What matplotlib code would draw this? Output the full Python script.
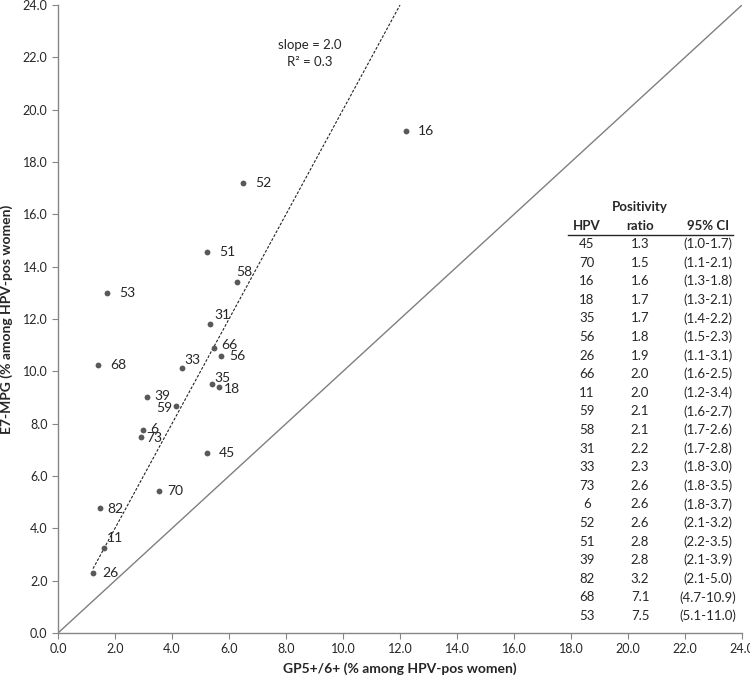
import matplotlib
matplotlib.use("Agg")
import matplotlib.pyplot as plt
import numpy as np

plt.rcParams['font.family'] = ['Lato', 'DejaVu Sans']

# Scatter data
types = ['16', '52', '51', '58', '53', '31', '66', '56', '33', '68', '35',
         '18', '39', '59', '6', '73', '45', '70', '82', '11', '26']
gp = [12.21, 6.49, 5.23, 6.29, 1.72, 5.34, 5.46, 5.71, 4.34, 1.41, 5.40,
      5.65, 3.13, 4.15, 2.99, 2.90, 5.23, 3.55, 1.47, 1.61, 1.23]
e7 = [19.17, 17.20, 14.56, 13.41, 12.99, 11.80, 10.91, 10.58, 10.12, 10.23, 9.51,
      9.39, 9.03, 8.66, 7.75, 7.48, 6.87, 5.43, 4.77, 3.25, 2.31]
# label offsets (pixels) and alignment
lab_dx = [12, 12, 12, -1, 12, 4, 8, 8, 3, 12, 2, 5, 7, -4, 7, 6, 12, 8, 7, 3, 9]
lab_dy = [0, 0, 0, 10, 0, 9, 3, 0, 8, 0, 6, -2, 1, -2, 1, -1, 0, 0, -1, 10, 0]
lab_ha = ['left'] * 13 + ['right'] + ['left'] * 7

slope = 2.0
intercept = 0.0
slope_text = "slope = 2.0"
r2_text = "R² = 0.3"

# Table data
tab_hpv = ['45', '70', '16', '18', '35', '56', '26', '66', '11', '59', '58',
           '31', '33', '73', '6', '52', '51', '39', '82', '68', '53']
tab_ratio = ['1.3', '1.5', '1.6', '1.7', '1.7', '1.8', '1.9', '2.0', '2.0', '2.1', '2.1',
             '2.2', '2.3', '2.6', '2.6', '2.6', '2.8', '2.8', '3.2', '7.1', '7.5']
tab_ci = ['(1.0-1.7)', '(1.1-2.1)', '(1.3-1.8)', '(1.3-2.1)', '(1.4-2.2)', '(1.5-2.3)',
          '(1.1-3.1)', '(1.6-2.5)', '(1.2-3.4)', '(1.6-2.7)', '(1.7-2.6)', '(1.7-2.8)',
          '(1.8-3.0)', '(1.8-3.5)', '(1.8-3.7)', '(2.1-3.2)', '(2.2-3.5)', '(2.1-3.9)',
          '(2.1-5.0)', '(4.7-10.9)', '(5.1-11.0)']

xticks = np.arange(0, 24.1, 2)
yticks = np.arange(0, 24.1, 2)

W, H = 750, 683
fig = plt.figure(figsize=(7.5, 6.83), dpi=100)
ax = fig.add_axes([58 / W, 1 - 633 / H, (742 - 58) / W, (633 - 5) / H])
ax.set_xlim(0, 24)
ax.set_ylim(0, 24)

gray = '#868686'
for s in ['top', 'right']:
    ax.spines[s].set_visible(False)
for s in ['left', 'bottom']:
    ax.spines[s].set_color(gray)
    ax.spines[s].set_linewidth(1.0)
ax.tick_params(direction='out', length=4, color=gray, labelsize=9, labelcolor='#262626')
ax.set_xticks(xticks)
ax.set_yticks(yticks)
ax.set_xticklabels([f"{v:.1f}" for v in xticks])
ax.set_yticklabels([f"{v:.1f}" for v in yticks])

# identity line
ax.plot([0, 24], [0, 24], color='#7f7f7f', lw=1.0, zorder=1)

# regression line
xr0 = min(gp)
xr1 = (24 - intercept) / slope
ax.plot([xr0, xr1], [slope * xr0 + intercept, slope * xr1 + intercept],
        color='#222222', lw=0.8, ls=(0, (2.5, 1.5)), zorder=2)

ax.plot(gp, e7, 'o', color='#595959', ms=4.2, mec='none', zorder=3, clip_on=False)
for t, x, y, dx, dy, ha in zip(types, gp, e7, lab_dx, lab_dy, lab_ha):
    ax.annotate(t, (x, y), xytext=(dx, dy), textcoords='offset pixels',
                ha=ha, va='center', fontsize=10, color='#262626')

fig.text(310 / W, 1 - 45 / H, slope_text, ha='center', va='center', fontsize=9.5, color='#262626')
fig.text(310 / W, 1 - 62 / H, r2_text, ha='center', va='center', fontsize=9.5, color='#262626')

ax.set_xlabel('GP5+/6+ (% among HPV-pos women)', fontsize=10, fontweight='bold',
              color='#262626', labelpad=5)
ax.set_ylabel('E7-MPG (% among HPV-pos women)', fontsize=10, fontweight='bold',
              color='#262626', labelpad=7)

# Table
cx = [587 / W, 640 / W, 708 / W]
tfs = 9.5
fig.text(cx[1], 1 - 207 / H, 'Positivity', ha='center', va='center', fontsize=tfs,
         fontweight='bold', color='#262626')
for c, h in zip(cx, ['HPV', 'ratio', '95% CI']):
    fig.text(c, 1 - 226 / H, h, ha='center', va='center', fontsize=tfs,
             fontweight='bold', color='#262626')
fig.add_artist(plt.Line2D([568 / W, 733 / W], [1 - 235 / H, 1 - 235 / H],
                          color='#262626', lw=1.0))
y0 = 244
dy = 18.6
for i, (a, b, c) in enumerate(zip(tab_hpv, tab_ratio, tab_ci)):
    yy = 1 - (y0 + i * dy) / H
    for cc, s in zip(cx, [a, b, c]):
        fig.text(cc, yy, s, ha='center', va='center', fontsize=tfs, color='#262626')

fig.savefig('out.png', dpi=100)
